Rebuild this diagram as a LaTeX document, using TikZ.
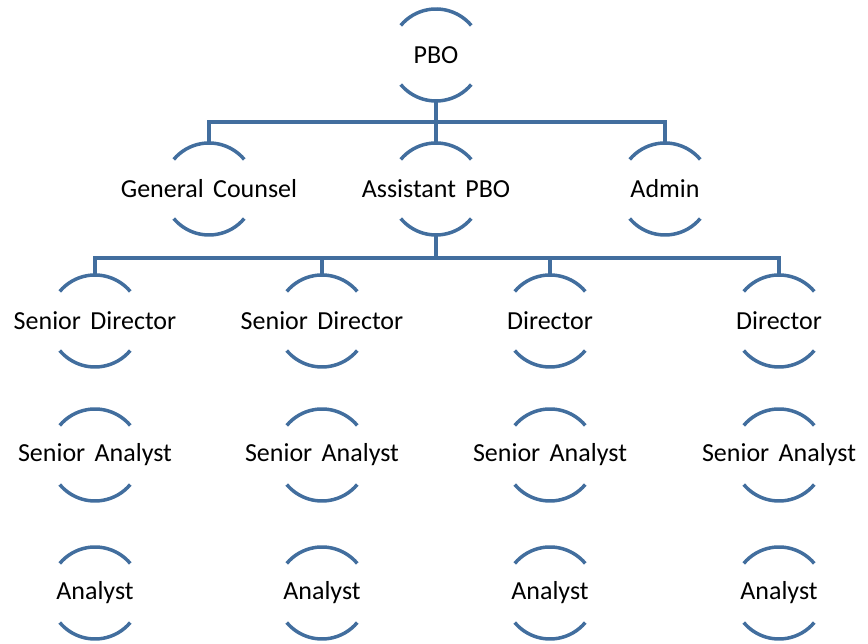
\documentclass[tikz,border=0pt]{standalone}
\usepackage{fontspec}
\setmainfont[WordSpace=1.6]{Carlito}
\definecolor{orgblue}{RGB}{66,110,158}
\tikzset{
  unit/.style={circle, minimum size=92pt, inner sep=0pt, outer sep=0pt,
    label={[font=\fontsize{26}{30}\selectfont, text=black]center:#1}},
  arcline/.style={draw=orgblue, line width=3.5pt},
  link/.style={draw=orgblue, line width=3.5pt}
}
\newcommand{\brackets}[1]{%
  \draw[arcline] (#1.40) arc[start angle=40, end angle=140, radius=46pt];
  \draw[arcline] (#1.220) arc[start angle=220, end angle=320, radius=46pt];}
\begin{document}
\begin{tikzpicture}[x=1pt,y=1pt]
\useasboundingbox (0,0) rectangle (868,644);
% level 1
\node[unit=PBO] (pbo) at (436,589) {};
% level 2
\node[unit={General Counsel}] (gc) at (209,455) {};
\node[unit={Assistant PBO}] (apbo) at (436,455) {};
\node[unit=Admin] (adm) at (665,455) {};
% level 3
\node[unit={Senior Director}] (d1) at (95,323) {};
\node[unit={Senior Director}] (d2) at (322,323) {};
\node[unit=Director] (d3) at (550,323) {};
\node[unit=Director] (d4) at (779,323) {};
% level 4
\node[unit={Senior Analyst}] (s1) at (95,189) {};
\node[unit={Senior Analyst}] (s2) at (322,189) {};
\node[unit={Senior Analyst}] (s3) at (550,189) {};
\node[unit={Senior Analyst}] (s4) at (779,189) {};
% level 5
\node[unit=Analyst] (a1) at (95,51) {};
\node[unit=Analyst] (a2) at (322,51) {};
\node[unit=Analyst] (a3) at (550,51) {};
\node[unit=Analyst] (a4) at (779,51) {};
\foreach \n in {pbo,gc,apbo,adm,d1,d2,d3,d4,s1,s2,s3,s4,a1,a2,a3,a4}{\brackets{\n}}
% connectors
\coordinate (b1) at (436,522);
\coordinate (b2) at (436,386);
\draw[link] (pbo.south) -- (b1) -- (apbo.north);
\draw[link] (gc.north) |- (b1) -| (adm.north);
\draw[link] (apbo.south) -- (b2);
\draw[link] (d1.north) |- (b2) -| (d4.north);
\draw[link] (d2.north) -- (d2.north |- b2);
\draw[link] (d3.north) -- (d3.north |- b2);
\end{tikzpicture}
\end{document}
